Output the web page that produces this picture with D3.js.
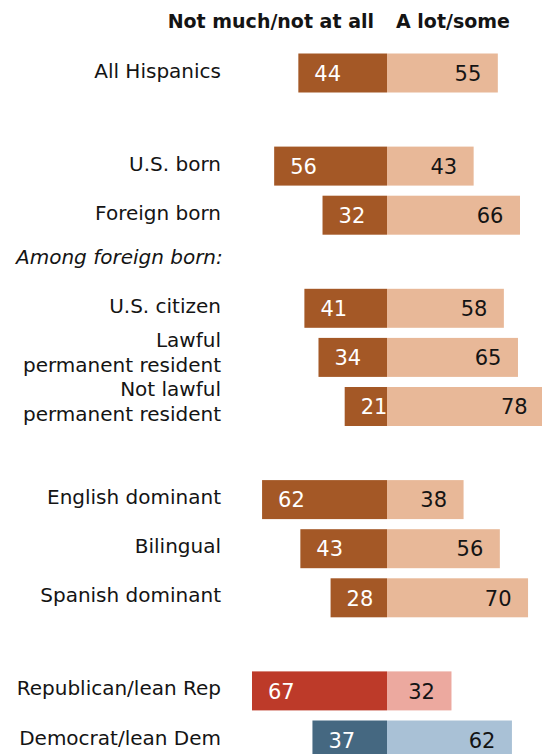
<!DOCTYPE html>
<html>
<head>
<meta charset="utf-8">
<script src="https://cdn.jsdelivr.net/npm/d3@7"></script>
<style>
  html, body { margin: 0; padding: 0; background: #fff; }
  svg { display: block; font-family: "DejaVu Sans", sans-serif; }
</style>
</head>
<body>
<div id="chart"></div>
<script>
// Survey rows, top to bottom
const categories = [
  "All Hispanics",
  "U.S. born",
  "Foreign born",
  "U.S. citizen",
  "Lawful permanent resident",
  "Not lawful permanent resident",
  "English dominant",
  "Bilingual",
  "Spanish dominant",
  "Republican/lean Rep",
  "Democrat/lean Dem"
];
// Displayed row labels (line breaks)
const labelLines = [
  ["All Hispanics"],
  ["U.S. born"],
  ["Foreign born"],
  ["U.S. citizen"],
  ["Lawful", "permanent resident"],
  ["Not lawful", "permanent resident"],
  ["English dominant"],
  ["Bilingual"],
  ["Spanish dominant"],
  ["Republican/lean Rep"],
  ["Democrat/lean Dem"]
];
// Block each row belongs to
const groups = [0, 1, 1, 2, 2, 2, 3, 3, 3, 4, 4];
// Percent answering "Not much/not at all"
const notMuch = [44, 56, 32, 41, 34, 21, 62, 43, 28, 67, 37];
// Percent answering "A lot/some"
const aLot = [55, 43, 66, 58, 65, 78, 38, 56, 70, 32, 62];
// Column headings
const seriesNames = ["Not much/not at all", "A lot/some"];
const subheading = "Among foreign born:";

// ---- styling ----
const W = 542, H = 754;
const defaultColors = { neg: "#a45826", pos: "#e8b898" };
const partyColors = {
  "Republican/lean Rep": { neg: "#bd3a29", pos: "#eca99f" },
  "Democrat/lean Dem": { neg: "#456881", pos: "#a9c1d6" }
};
const textColor = "#141414";

const rows = categories.map((c, i) => ({
  name: c,
  lines: labelLines[i],
  group: groups[i],
  neg: notMuch[i],
  pos: aLot[i],
  colors: partyColors[c] || defaultColors
}));

const svg = d3.select("#chart").append("svg")
  .attr("width", W).attr("height", H);

// Diverging horizontal scale, zero in the middle of the bars
const x = d3.scaleLinear().domain([-100, 100]).range([185.5, 588.5]);

// Vertical layout: fixed step per row plus extra space between blocks
const rowTop = 53.5, rowStep = 49.1, groupGap = 44, barH = 39;
const yIndex = d3.scaleLinear().domain([0, 1]).range([rowTop, rowTop + rowStep]);
const yTop = (d, i) => yIndex(i) + d.group * groupGap;

const g = svg.append("g");

// Column headings
svg.append("text")
  .attr("x", x(0) - 13).attr("y", 28)
  .attr("text-anchor", "end")
  .attr("font-size", 19).attr("font-weight", "bold")
  .attr("fill", textColor)
  .text(seriesNames[0]);
svg.append("text")
  .attr("x", x(0) + 9).attr("y", 28)
  .attr("text-anchor", "start")
  .attr("font-size", 19).attr("font-weight", "bold")
  .attr("fill", textColor)
  .text(seriesNames[1]);

const row = g.selectAll("g.row").data(rows).join("g")
  .attr("class", "row")
  .attr("transform", (d, i) => `translate(0,${yTop(d, i)})`);

// Negative side bars
row.append("rect")
  .attr("x", d => x(-d.neg))
  .attr("width", d => x(0) - x(-d.neg))
  .attr("y", 0).attr("height", barH)
  .attr("fill", d => d.colors.neg);

// Positive side bars
row.append("rect")
  .attr("x", x(0))
  .attr("width", d => x(d.pos) - x(0))
  .attr("y", 0).attr("height", barH)
  .attr("fill", d => d.colors.pos);

// Value labels inside the bars, near their outer ends
row.append("text")
  .attr("x", d => x(-d.neg) + 16)
  .attr("y", barH / 2 + 7.8)
  .attr("font-size", 21)
  .attr("fill", "#fff")
  .text(d => d.neg);

row.append("text")
  .attr("x", d => x(d.pos) - 16.5)
  .attr("y", barH / 2 + 7.8)
  .attr("text-anchor", "end")
  .attr("font-size", 21)
  .attr("fill", textColor)
  .text(d => d.pos);

// Category labels, right aligned; wrapped labels sit slightly higher
const labelX = 221, lineH = 24.5;
row.append("text")
  .attr("text-anchor", "end")
  .attr("font-size", 20)
  .attr("fill", textColor)
  .each(function(d) {
    const t = d3.select(this);
    const n = d.lines.length;
    d.lines.forEach((ln, k) => {
      t.append("tspan")
        .attr("x", labelX)
        .attr("y", barH / 2 + 4.5 - (n - 1) * 2.5 + (k - (n - 1) / 2) * lineH)
        .text(ln);
    });
  });

// Subheading above the foreign-born breakdown
const firstSub = rows.findIndex(d => d.group === 2);
svg.append("text")
  .attr("x", 16)
  .attr("y", yTop(rows[firstSub], firstSub) - 24.5)
  .attr("font-size", 20)
  .attr("font-style", "italic")
  .attr("fill", textColor)
  .text(subheading);
</script>
</body>
</html>
